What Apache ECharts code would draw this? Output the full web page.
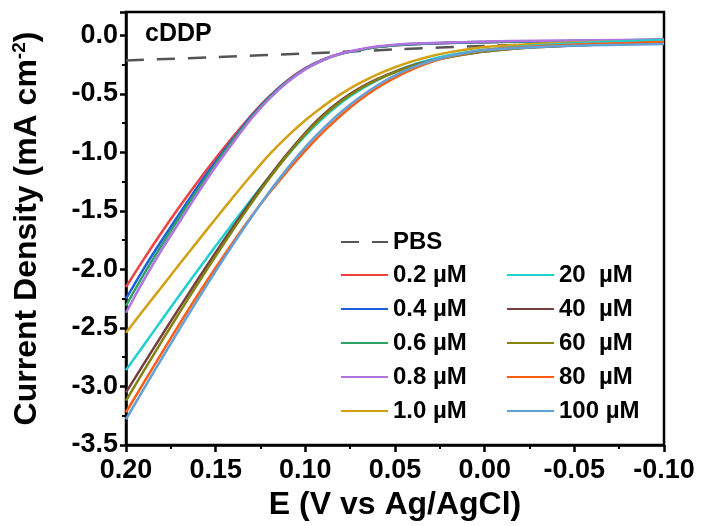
<!DOCTYPE html>
<html>
<head>
<meta charset="utf-8">
<script src="https://cdn.jsdelivr.net/npm/echarts@6/dist/echarts.min.js"></script>
<style>html,body{margin:0;padding:0;background:#fff;}#c{width:703px;height:526px;}</style>
</head>
<body>
<div id="c"></div>
<script>
// Potential (V vs Ag/AgCl)
const E = [0.20,0.19,0.18,0.17,0.16,0.15,0.14,0.13,0.12,0.11,0.10,0.09,0.08,0.07,0.06,0.05,0.04,0.03,0.02,0.01,0.00,-0.03,-0.06,-0.10];
const pbsE = [0.20,0.15,0.10,0.05,0.00,-0.05,-0.10];
const pbs = [-0.215,-0.185,-0.155,-0.12,-0.09,-0.07,-0.055];
const c02 = [-2.15,-1.91,-1.68,-1.46,-1.25,-1.05,-0.86,-0.68,-0.52,-0.385,-0.28,-0.205,-0.155,-0.125,-0.10,-0.085,-0.075,-0.07,-0.065,-0.061,-0.058,-0.052,-0.046,-0.038];
const c04 = [-2.25,-1.99,-1.75,-1.52,-1.29,-1.08,-0.88,-0.69,-0.525,-0.39,-0.283,-0.207,-0.156,-0.125,-0.10,-0.085,-0.075,-0.07,-0.065,-0.061,-0.058,-0.052,-0.046,-0.038];
const c06 = [-2.31,-2.04,-1.79,-1.55,-1.32,-1.10,-0.89,-0.70,-0.53,-0.393,-0.287,-0.21,-0.157,-0.125,-0.10,-0.084,-0.074,-0.068,-0.063,-0.059,-0.056,-0.05,-0.044,-0.037];
const c08 = [-2.37,-2.09,-1.83,-1.59,-1.35,-1.12,-0.91,-0.71,-0.54,-0.40,-0.29,-0.21,-0.155,-0.12,-0.095,-0.08,-0.07,-0.064,-0.06,-0.056,-0.052,-0.046,-0.041,-0.035];
const c10 = [-2.54,-2.343,-2.147,-1.952,-1.758,-1.566,-1.377,-1.193,-1.017,-0.862,-0.725,-0.605,-0.50,-0.41,-0.335,-0.272,-0.22,-0.178,-0.145,-0.12,-0.10,-0.072,-0.057,-0.045];
const c20 = [-2.86,-2.645,-2.43,-2.217,-2.007,-1.80,-1.597,-1.399,-1.207,-1.025,-0.857,-0.705,-0.575,-0.47,-0.385,-0.31,-0.25,-0.205,-0.17,-0.143,-0.122,-0.085,-0.06,-0.04];
const c40 = [-3.05,-2.805,-2.562,-2.322,-2.086,-1.855,-1.63,-1.413,-1.206,-1.01,-0.832,-0.678,-0.553,-0.452,-0.373,-0.309,-0.257,-0.216,-0.184,-0.158,-0.137,-0.10,-0.08,-0.06];
const c60 = [-3.12,-2.865,-2.613,-2.365,-2.122,-1.885,-1.655,-1.433,-1.221,-1.023,-0.843,-0.69,-0.563,-0.46,-0.38,-0.315,-0.262,-0.22,-0.187,-0.16,-0.138,-0.10,-0.08,-0.06];
const c80 = [-3.22,-2.965,-2.712,-2.462,-2.218,-1.985,-1.76,-1.545,-1.345,-1.16,-0.985,-0.825,-0.682,-0.557,-0.45,-0.36,-0.287,-0.228,-0.183,-0.15,-0.125,-0.093,-0.074,-0.057];
const c100 = [-3.28,-3.018,-2.76,-2.506,-2.257,-2.014,-1.778,-1.551,-1.336,-1.136,-0.954,-0.794,-0.654,-0.532,-0.428,-0.342,-0.273,-0.219,-0.178,-0.148,-0.127,-0.10,-0.085,-0.074];
const names = ['0.2 µM','0.4 µM','0.6 µM','0.8 µM','1.0 µM','20  µM','40  µM','60  µM','80  µM','100 µM'];
const values = [c02,c04,c06,c08,c10,c20,c40,c60,c80,c100];
const colors = ['#f04141','#1f5fdc','#2da262','#b273e2','#d2a010','#20cfcf','#753f3f','#83830f','#ff5e12','#62a0d8'];
const yTicks = [-3.5,-3.0,-2.5,-2.0,-1.5,-1.0,-0.5,0.0];

const FONT = '"Liberation Sans", Arial, sans-serif';
const chart = echarts.init(document.getElementById('c'), null, {renderer:'canvas'});

const series = [{
  name:'PBS', type:'line', symbol:'none', smooth:0.3,
  data: pbsE.map((e,i)=>[e,pbs[i]]),
  lineStyle:{color:'#555', width:2.5, type:[18,13]}, itemStyle:{color:'#555'}, z:1
}];
names.forEach((n,k)=>{
  series.push({
    name:n, type:'line', symbol:'none', smooth:0.3,
    data: E.map((e,i)=>[e, values[k][i]]),
    lineStyle:{color:colors[k], width:2.5}, itemStyle:{color:colors[k]}, z:2
  });
});

const legText = {fontFamily:FONT, fontWeight:'bold', fontSize:24, color:'#000', lineHeight:22};
const legBase = {itemWidth:47, itemHeight:14, selectedMode:false, textStyle:legText, padding:0, itemStyle:{opacity:0, borderWidth:0}};
chart.setOption({
  animation:false,
  backgroundColor:'#fff',
  grid:{left:126, right:39, top:12, bottom:81, show:true, borderColor:'#000', borderWidth:2.5, backgroundColor:'transparent'},
  xAxis:{
    type:'value', min:-0.10, max:0.20, interval:0.05, inverse:true,
    axisLine:{show:true, onZero:false, lineStyle:{color:'#000', width:2.5}},
    axisTick:{show:true, inside:false, length:7, lineStyle:{color:'#000', width:2.5}},
    minorTick:{show:true, splitNumber:2, length:4, lineStyle:{color:'#000', width:2}},
    splitLine:{show:false},
    axisLabel:{margin:12, fontFamily:FONT, fontWeight:'bold', fontSize:27, color:'#000',
      formatter:v=>v.toFixed(2)},
    name:'E (V vs Ag/AgCl)', nameLocation:'middle', nameGap:40,
    nameTextStyle:{fontFamily:FONT, fontWeight:'bold', fontSize:32, color:'#000'}
  },
  yAxis:{
    type:'value', min:-3.5, max:0.2, interval:0.5,
    axisLine:{show:true, onZero:false, lineStyle:{color:'#000', width:2.5}},
    axisTick:{show:true, inside:false, length:6, lineStyle:{color:'#000', width:2.5}},
    minorTick:{show:true, splitNumber:2, length:4, lineStyle:{color:'#000', width:2}},
    splitLine:{show:false},
    axisLabel:{margin:8, fontFamily:FONT, fontWeight:'bold', fontSize:27, color:'#000', showMaxLabel:false,
      formatter:v=> yTicks.some(t=>Math.abs(t-v)<1e-9) ? v.toFixed(1) : ''},
    name:'Current Density (mA cm{sup|-2})', nameLocation:'middle', nameGap:82, nameRotate:90,
    nameTextStyle:{fontFamily:FONT, fontWeight:'bold', fontSize:32, color:'#000',
      rich:{sup:{fontFamily:FONT, fontWeight:'bold', fontSize:19, color:'#000', verticalAlign:'top', padding:[0,0,15,0]}}}
  },
  legend:[
    Object.assign({data:['PBS'], left:340, top:230}, legBase),
    Object.assign({data:names.slice(0,5), orient:'vertical', left:340, top:263, itemGap:10}, legBase),
    Object.assign({data:names.slice(5), orient:'vertical', left:506, top:263, itemGap:10}, legBase)
  ],
  graphic:[{type:'text', left:145, top:22, style:{text:'cDDP', fontFamily:FONT, fontWeight:'bold', fontSize:25, fill:'#000'}}],
  series:series
});
</script>
</body>
</html>
